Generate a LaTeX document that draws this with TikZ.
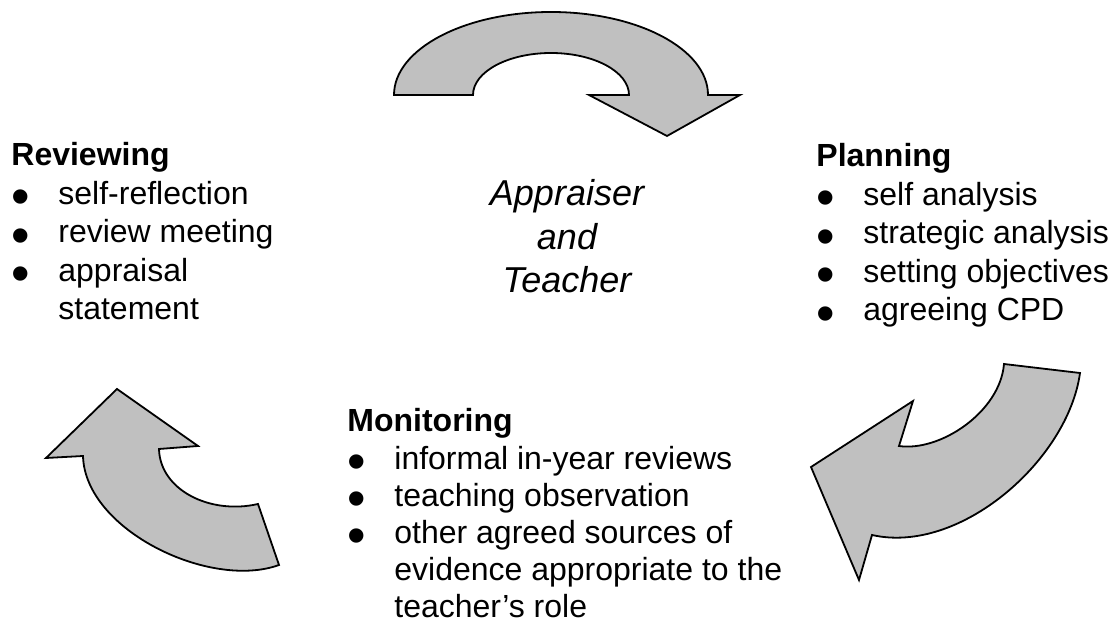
\documentclass[tikz,border=0pt]{standalone}
\usepackage{fontspec}
\setmainfont{Liberation Sans}
\usepackage{tikz}

\definecolor{arrowgray}{RGB}{192,192,192}
\newcommand{\bul}{\makebox[23.5pt][l]{\raisebox{-5.1pt}{\scalebox{1.65}{\textbullet}}}}
\newcommand{\indt}{\hspace{23.5pt}}

\begin{document}
\begin{tikzpicture}[x=0.5pt,y=-0.5pt,
    bigarrow/.style={draw=black,fill=arrowgray,line width=0.9pt,line join=miter},
    block/.style={anchor=base west,inner sep=0pt,font=\fontsize{16}{19.25}\selectfont}]
    \useasboundingbox (0,0) rectangle (1114,624);

    % the three curved arrows
    \draw[bigarrow] (394,95) arc[start angle=180,end angle=360,x radius=157,y radius=83]
        -- (740,95) -- (667,136) -- (589,95) -- (629,95)
        arc[start angle=0,end angle=-180,x radius=78,y radius=42] -- cycle;
    \draw[bigarrow] (1004,364) -- (1080,373) .. controls (1068,460) and (960,555) .. (872,535)
        -- (859,580) -- (811,467) -- (913,401) -- (899,446)
        .. controls (940,452) and (1000,412) .. (1004,364) -- cycle;
    \draw[bigarrow] (117,389) -- (198,446) -- (159,449)
        .. controls (160,490) and (210,515) .. (258,504) -- (279,565)
        .. controls (210,590) and (85,530) .. (83,456) -- (46,458) -- cycle;

    % centre
    \node[anchor=base,inner sep=0pt,font=\fontsize{18}{21.75}\selectfont\itshape] (who) at (567,206)
        {\begin{tabular}[t]{@{}c@{}}Appraiser\\and\\Teacher\end{tabular}};

    % the three stages
    \node[block] (review) at (11,166) {\begin{tabular}[t]{@{}l@{}}
        \textbf{Reviewing}\\
        \bul self-reflection\\
        \bul review meeting\\
        \bul appraisal\\
        \indt statement
    \end{tabular}};
    \node[block] (plan) at (816,167) {\begin{tabular}[t]{@{}l@{}}
        \textbf{Planning}\\
        \bul self analysis\\
        \bul strategic analysis\\
        \bul setting objectives\\
        \bul agreeing CPD
    \end{tabular}};
    \node[block,font=\fontsize{16}{18.6}\selectfont] (monitor) at (347,432) {\begin{tabular}[t]{@{}l@{}}
        \textbf{Monitoring}\\
        \bul informal in-year reviews\\
        \bul teaching observation\\
        \bul other agreed sources of\\
        \indt evidence appropriate to the\\
        \indt teacher’s role
    \end{tabular}};

\end{tikzpicture}
\end{document}
